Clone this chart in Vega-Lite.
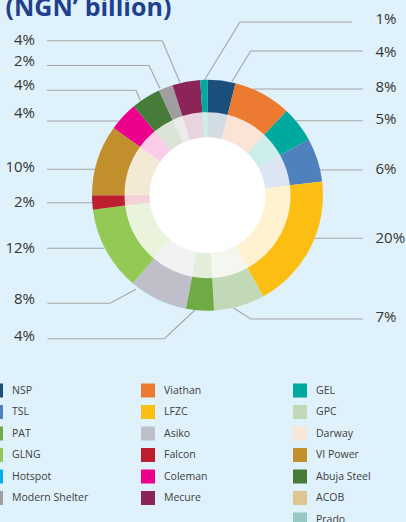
{
  "$schema": "https://vega.github.io/schema/vega-lite/v6.json",
  "width": 406,
  "height": 522,
  "autosize": {"type": "none"},
  "padding": 0,
  "background": "#dff1fa",
  "config": {"view": {"stroke": null}, "font": "Open Sans"},
  "datasets": {
    "shares": [
      {"idx": 1, "name": "NSP", "value": 3.9},
      {"idx": 2, "name": "Viathan", "value": 8.1},
      {"idx": 3, "name": "GEL", "value": 5.0},
      {"idx": 4, "name": "TSL", "value": 6.1},
      {"idx": 5, "name": "LFZC", "value": 18.9},
      {"idx": 6, "name": "GPC", "value": 7.1},
      {"idx": 7, "name": "PAT", "value": 3.9},
      {"idx": 8, "name": "Asiko", "value": 8.2},
      {"idx": 9, "name": "GLNG", "value": 11.8},
      {"idx": 10, "name": "Falcon", "value": 2.0},
      {"idx": 11, "name": "VI Power", "value": 9.9},
      {"idx": 12, "name": "Coleman", "value": 4.1},
      {"idx": 13, "name": "Abuja Steel", "value": 4.1},
      {"idx": 14, "name": "Modern Shelter", "value": 2.0},
      {"idx": 15, "name": "Mecure", "value": 3.9},
      {"idx": 16, "name": "GEL", "value": 1.0}
    ],
    "labels": [
      {"label": "1%", "side": "right", "y": 19},
      {"label": "4%", "side": "right", "y": 51.7},
      {"label": "8%", "side": "right", "y": 87.3},
      {"label": "5%", "side": "right", "y": 119},
      {"label": "6%", "side": "right", "y": 169.3},
      {"label": "20%", "side": "right", "y": 237.7},
      {"label": "7%", "side": "right", "y": 317.3},
      {"label": "4%", "side": "left", "y": 40},
      {"label": "2%", "side": "left", "y": 61},
      {"label": "4%", "side": "left", "y": 85},
      {"label": "4%", "side": "left", "y": 113.3},
      {"label": "10%", "side": "left", "y": 166.7},
      {"label": "2%", "side": "left", "y": 202.3},
      {"label": "12%", "side": "left", "y": 247.7},
      {"label": "8%", "side": "left", "y": 299.3},
      {"label": "4%", "side": "left", "y": 336}
    ],
    "leaders": [
      {"id": "r1", "i": 1, "x": 204.5, "y": 80},
      {"id": "r1", "i": 2, "x": 240, "y": 22},
      {"id": "r1", "i": 3, "x": 351.7, "y": 22},
      {"id": "r2", "i": 1, "x": 232, "y": 81.5},
      {"id": "r2", "i": 2, "x": 250.7, "y": 51},
      {"id": "r2", "i": 3, "x": 362.7, "y": 51},
      {"id": "r3", "i": 1, "x": 253, "y": 89},
      {"id": "r3", "i": 2, "x": 362.7, "y": 89},
      {"id": "r4", "i": 1, "x": 296, "y": 120.7},
      {"id": "r4", "i": 2, "x": 362.7, "y": 120.7},
      {"id": "r5", "i": 1, "x": 320, "y": 170},
      {"id": "r5", "i": 2, "x": 362.7, "y": 170},
      {"id": "r6", "i": 1, "x": 314.5, "y": 238.3},
      {"id": "r6", "i": 2, "x": 362.7, "y": 238.3},
      {"id": "r7", "i": 1, "x": 233.3, "y": 307.7},
      {"id": "r7", "i": 2, "x": 250.7, "y": 319},
      {"id": "r7", "i": 3, "x": 362.7, "y": 319},
      {"id": "l1", "i": 1, "x": 180, "y": 82.5},
      {"id": "l1", "i": 2, "x": 162.3, "y": 40.7},
      {"id": "l1", "i": 3, "x": 47, "y": 40.7},
      {"id": "l2", "i": 1, "x": 160, "y": 88.5},
      {"id": "l2", "i": 2, "x": 149, "y": 65.5},
      {"id": "l2", "i": 3, "x": 47, "y": 65.5},
      {"id": "l3", "i": 1, "x": 140.5, "y": 100.5},
      {"id": "l3", "i": 2, "x": 136, "y": 90.3},
      {"id": "l3", "i": 3, "x": 47, "y": 90.3},
      {"id": "l4", "i": 1, "x": 119, "y": 121},
      {"id": "l4", "i": 2, "x": 47, "y": 121},
      {"id": "l5", "i": 1, "x": 95, "y": 169.3},
      {"id": "l5", "i": 2, "x": 47, "y": 169.3},
      {"id": "l6", "i": 1, "x": 92.5, "y": 202.7},
      {"id": "l6", "i": 2, "x": 47, "y": 202.7},
      {"id": "l7", "i": 1, "x": 104.5, "y": 248.3},
      {"id": "l7", "i": 2, "x": 47, "y": 248.3},
      {"id": "l8", "i": 1, "x": 136, "y": 289.3},
      {"id": "l8", "i": 2, "x": 110, "y": 303.3},
      {"id": "l8", "i": 3, "x": 47.5, "y": 303.3},
      {"id": "l9", "i": 1, "x": 195, "y": 310},
      {"id": "l9", "i": 2, "x": 164.3, "y": 338.7},
      {"id": "l9", "i": 3, "x": 47.5, "y": 338.7}
    ],
    "title": [{"t": "(NGN’ billion)"}]
  },
  "layer": [
    {
      "data": {"name": "title"},
      "mark": {"type": "text", "align": "left", "baseline": "alphabetic", "font": "Open Sans", "fontSize": 25, "fontWeight": "bold", "color": "#213f8d"},
      "encoding": {
        "x": {"datum": 5.5, "type": "quantitative", "scale": {"domain": [0, 406], "nice": false, "zero": false}, "axis": null},
        "y": {"datum": 15.5, "type": "quantitative", "scale": {"domain": [0, 522], "nice": false, "zero": false, "reverse": true}, "axis": null},
        "text": {"field": "t"}
      }
    },
    {
      "data": {"name": "leaders"},
      "mark": {"type": "line", "color": "#a3a6a8", "strokeWidth": 1.1},
      "encoding": {
        "x": {"field": "x", "type": "quantitative", "scale": {"domain": [0, 406], "nice": false, "zero": false}, "axis": null},
        "y": {"field": "y", "type": "quantitative", "scale": {"domain": [0, 522], "nice": false, "zero": false, "reverse": true}, "axis": null},
        "detail": {"field": "id"},
        "order": {"field": "i"}
      }
    },
    {
      "data": {"name": "title"},
      "mark": {"type": "arc", "innerRadius": 0, "outerRadius": 84, "theta": 0, "theta2": 6.2832, "fill": "#ffffff"},
      "encoding": {
        "x": {"datum": 207.5, "type": "quantitative", "stack": null, "scale": {"domain": [0, 406], "nice": false, "zero": false}, "axis": null},
        "y": {"datum": 195.2, "type": "quantitative", "stack": null, "scale": {"domain": [0, 522], "nice": false, "zero": false, "reverse": true}, "axis": null}
      }
    },
    {
      "data": {"name": "shares"},
      "transform": [
        {"window": [{"op": "sum", "field": "value", "as": "end"}], "sort": [{"field": "idx"}], "frame": [null, 0]},
        {"calculate": "datum.end - datum.value", "as": "start"}
      ],
      "mark": {"type": "arc", "innerRadius": 58, "outerRadius": 83.5, "fillOpacity": 0.2},
      "encoding": {
        "x": {"datum": 207.5, "type": "quantitative", "stack": null, "scale": {"domain": [0, 406], "nice": false, "zero": false}, "axis": null},
        "y": {"datum": 195.2, "type": "quantitative", "stack": null, "scale": {"domain": [0, 522], "nice": false, "zero": false, "reverse": true}, "axis": null},
        "theta": {"field": "start", "type": "quantitative", "stack": null, "scale": {"domain": [0, 100], "range": [0, 6.2832]}},
        "theta2": {"field": "end"},
        "color": {"field": "name", "type": "nominal"}
      }
    },
    {
      "data": {"name": "shares"},
      "transform": [
        {"window": [{"op": "sum", "field": "value", "as": "end"}], "sort": [{"field": "idx"}], "frame": [null, 0]},
        {"calculate": "datum.end - datum.value", "as": "start"}
      ],
      "mark": {"type": "arc", "innerRadius": 83, "outerRadius": 115.5},
      "encoding": {
        "x": {"datum": 207.5, "type": "quantitative", "stack": null, "scale": {"domain": [0, 406], "nice": false, "zero": false}, "axis": null},
        "y": {"datum": 195.2, "type": "quantitative", "stack": null, "scale": {"domain": [0, 522], "nice": false, "zero": false, "reverse": true}, "axis": null},
        "theta": {"field": "start", "type": "quantitative", "stack": null, "scale": {"domain": [0, 100], "range": [0, 6.2832]}},
        "theta2": {"field": "end"},
        "color": {
          "field": "name",
          "type": "nominal",
          "scale": {
            "domain": ["NSP", "TSL", "PAT", "GLNG", "Hotspot", "Modern Shelter", " ", "Viathan", "LFZC", "Asiko", "Falcon", "Coleman", "Mecure", "  ", "GEL", "GPC", "Darway", "VI Power", "Abuja Steel", "ACOB", "Prado"],
            "range": ["#1d4f7c", "#4f81bd", "#6fab45", "#94c955", "#00aeef", "#a09e9e", "transparent", "#ec7a30", "#fdbe14", "#bfbfca", "#be1f2e", "#ec008c", "#8c2458", "transparent", "#00a99d", "#c1d9b6", "#f8e6d7", "#c18f2c", "#467b3a", "#dfc592", "#96c9c5"]
          },
          "legend": {
            "orient": "none",
            "legendX": -11,
            "legendY": 383.5,
            "columns": 3,
            "title": null,
            "padding": 0,
            "symbolType": "square",
            "symbolSize": 196,
            "symbolStrokeWidth": 0,
            "symbolOpacity": 1,
            "symbolFillColor": null,
            "labelFont": "Open Sans",
            "labelFontSize": 10.5,
            "labelColor": "#404040",
            "labelOffset": 9,
            "labelLimit": 200,
            "rowPadding": 7.5,
            "columnPadding": 52,
            "gridAlign": "all"
          }
        }
      }
    },
    {
      "data": {"name": "labels"},
      "transform": [{"filter": "datum.side === 'right'"}],
      "mark": {"type": "text", "align": "left", "baseline": "middle", "font": "Open Sans", "fontSize": 15, "color": "#363636"},
      "encoding": {
        "x": {"datum": 375.5, "type": "quantitative", "scale": {"domain": [0, 406], "nice": false, "zero": false}, "axis": null},
        "y": {"field": "y", "type": "quantitative", "scale": {"domain": [0, 522], "nice": false, "zero": false, "reverse": true}, "axis": null},
        "text": {"field": "label"}
      }
    },
    {
      "data": {"name": "labels"},
      "transform": [{"filter": "datum.side === 'left'"}],
      "mark": {"type": "text", "align": "right", "baseline": "middle", "font": "Open Sans", "fontSize": 15, "color": "#363636"},
      "encoding": {
        "x": {"datum": 35, "type": "quantitative", "scale": {"domain": [0, 406], "nice": false, "zero": false}, "axis": null},
        "y": {"field": "y", "type": "quantitative", "scale": {"domain": [0, 522], "nice": false, "zero": false, "reverse": true}, "axis": null},
        "text": {"field": "label"}
      }
    }
  ]
}
